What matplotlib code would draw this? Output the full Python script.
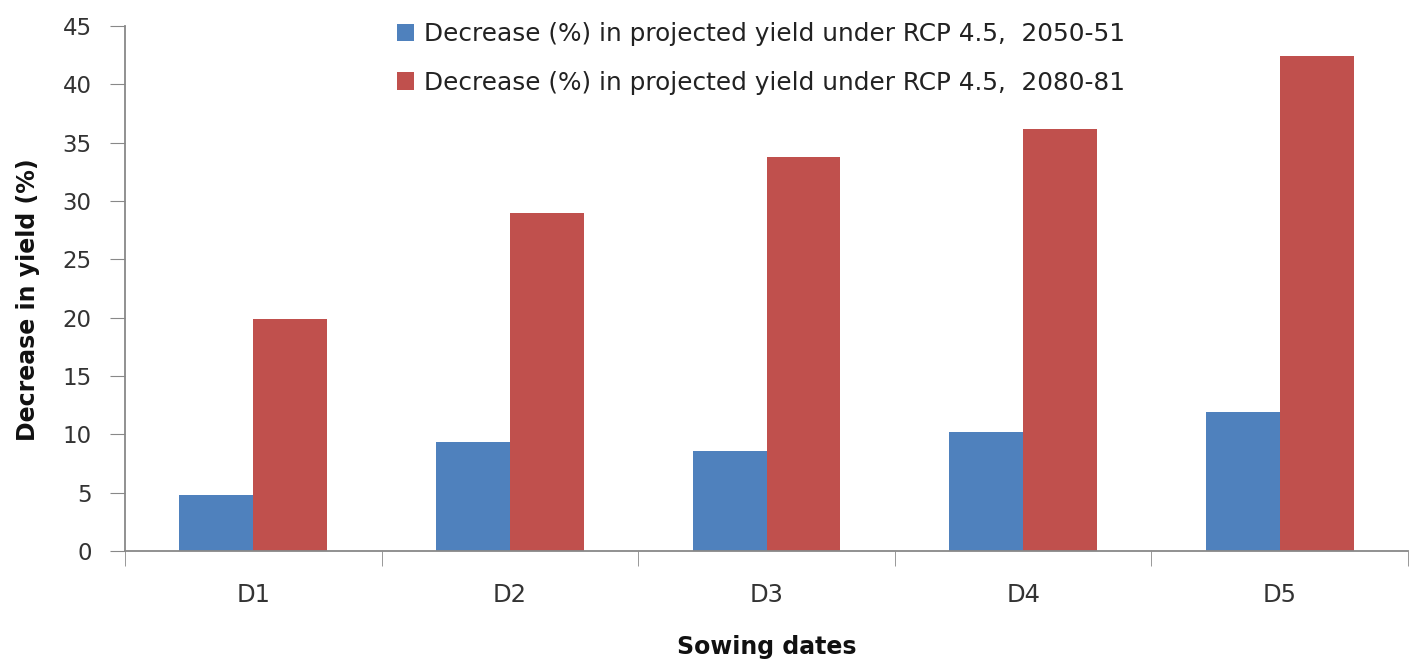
import numpy as np
import matplotlib
matplotlib.use("Agg")
import matplotlib.pyplot as plt

# =====================================================
# DATA
# =====================================================

dates = ["D1", "D2", "D3", "D4", "D5"]
decrease_2050 = [4.8, 9.3, 8.6, 10.2, 11.9]
decrease_2080 = [19.9, 29.0, 33.8, 36.2, 42.4]
label_2050 = "Decrease (%) in projected yield under RCP 4.5,  2050-51"
label_2080 = "Decrease (%) in projected yield under RCP 4.5,  2080-81"

# =====================================================
# PLOT
# =====================================================

fig = plt.figure(figsize=(14.26, 6.59), dpi=100)
ax = fig.add_axes([0.0877, 0.1639, 0.8997, 0.7966])

x = np.arange(len(dates))
w = 0.288

ax.bar(x - w / 2, decrease_2050, width=w, color="#4f81bd", label=label_2050)
ax.bar(x + w / 2, decrease_2080, width=w, color="#c0504d", label=label_2080)

ax.set_xlim(-0.5, len(dates) - 0.5)
ax.set_ylim(0, 45)
ax.set_yticks(np.arange(0, 46, 5))

ax.set_xticks(x)
ax.set_xticklabels(dates)
ax.set_xticks(np.arange(-0.5, len(dates), 1), minor=True)
ax.tick_params(axis="x", which="major", length=0, pad=23, labelsize=17.5, labelcolor="#333333")
ax.tick_params(axis="x", which="minor", length=11, color="#888888", direction="out")
ax.tick_params(axis="y", length=11, color="#888888", labelsize=16.5, pad=13, labelcolor="#333333")

for s in ["top", "right"]:
    ax.spines[s].set_visible(False)
for s in ["left", "bottom"]:
    ax.spines[s].set_color("#888888")
    ax.spines[s].set_linewidth(1.3)

ax.set_ylabel("Decrease in yield (%)", fontsize=17, fontweight="bold", labelpad=14, color="#111111")
ax.yaxis.set_label_coords(-0.066, 0.478)
ax.set_xlabel("Sowing dates", fontsize=17, fontweight="bold", labelpad=20, color="#111111")

fig.legend(
    loc="upper left",
    bbox_to_anchor=(397 / 1426, 1 - 22 / 659),
    bbox_transform=fig.transFigure,
    frameon=False,
    fontsize=17.8,
    borderpad=0,
    borderaxespad=0,
    handlelength=0.7,
    handleheight=0.7,
    handletextpad=0.38,
    labelspacing=1.0,
    labelcolor="#222222",
)

plt.savefig("out.png", dpi=100)
plt.close()
